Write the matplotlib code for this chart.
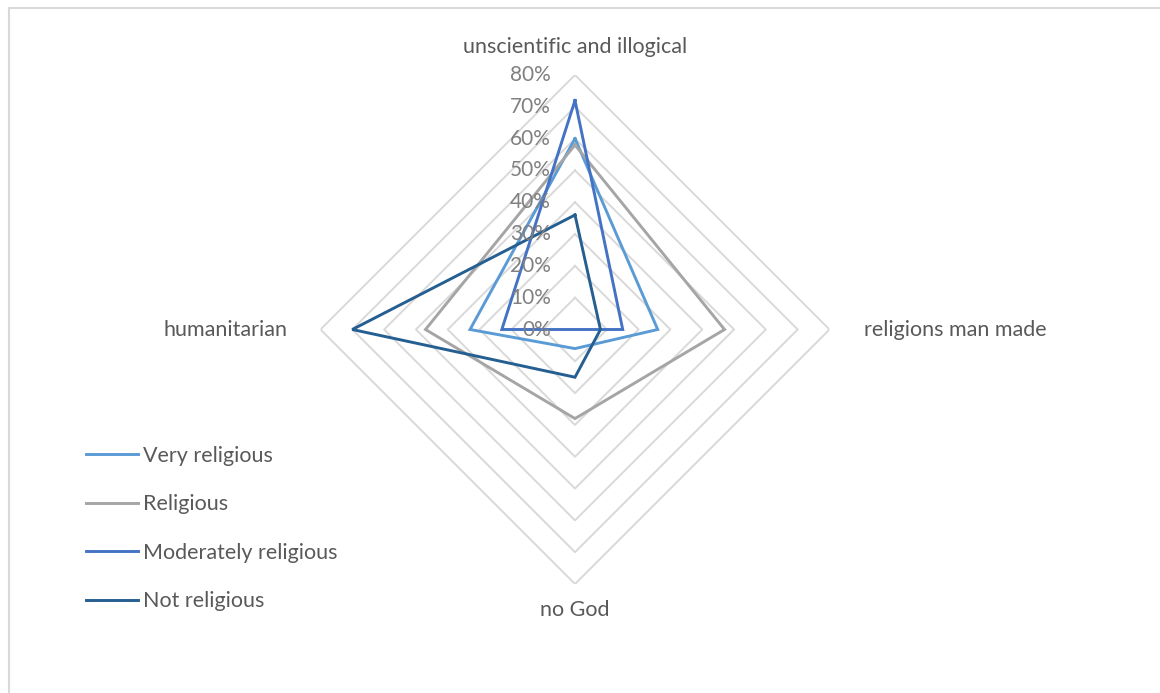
import matplotlib.pyplot as plt
import matplotlib.patches as patches
from matplotlib.transforms import offset_copy
import numpy as np

plt.rcParams['font.family'] = ['Lato', 'DejaVu Sans']

# Categories (clockwise from the top) and shares per group
categories = ['unscientific and illogical', 'religions man made', 'no God', 'humanitarian']
very_religious = [0.60, 0.26, 0.06, 0.33]
religious = [0.58, 0.47, 0.28, 0.47]
moderately_religious = [0.72, 0.15, 0.00, 0.23]
not_religious = [0.36, 0.08, 0.15, 0.70]
series_names = ['Very religious', 'Religious', 'Moderately religious', 'Not religious']
rings = [0.1, 0.2, 0.3, 0.4, 0.5, 0.6, 0.7, 0.8]

colors = ['#5B9BD5', '#A5A5A5', '#4472C4', '#255E91']
text_gray = '#595959'
fs = 15.5

W, H = 1160, 693
fig = plt.figure(figsize=(W / 100, H / 100), dpi=100)

# chart frame
fig.patches.append(patches.Rectangle((9 / W, -0.05), 1.2, 1 - 8 / H + 0.05,
                                     transform=fig.transFigure, fill=False,
                                     edgecolor='#D9D9D9', linewidth=1.5))

# radar area: centre (575, 329.5) px, 80% ring at 254.5 px
cx, cy, rad = 575, 329.5, 254.5
ax = fig.add_axes([(cx - rad) / W, (H - cy - rad) / H, 2 * rad / W, 2 * rad / H],
                  projection='polar')
ax.set_theta_zero_location('N')
ax.set_theta_direction(-1)
ax.set_ylim(0, 0.8)
ax.set_rorigin(0)
ax.grid(False)
ax.spines['polar'].set_visible(False)
ax.set_xticks([])
ax.set_yticks([])
ax.patch.set_alpha(0)

angles = np.linspace(0, 2 * np.pi, len(categories), endpoint=False)
closed = np.append(angles, angles[0])

# diamond-shaped grid rings
for r in rings:
    ax.plot(closed, [r] * len(closed), color='#D9D9D9', linewidth=1.4, zorder=1)

data = [very_religious, religious, moderately_religious, not_religious]
for vals, name, c in zip(data, series_names, colors):
    ax.plot(closed, vals + vals[:1], color=c, linewidth=2.1, label=name, zorder=3,
            solid_joinstyle='miter')

# value labels along the vertical axis
tick_tr = offset_copy(ax.transData, fig=fig, x=-24, y=0, units='dots')
for r in [0.0] + rings:
    ax.text(0, r, f'{int(round(r * 100))}%', transform=tick_tr, ha='right', va='center',
            fontsize=fs - 0.5, color='#808080', zorder=4)

# category labels
lbl_kw = dict(fontsize=fs, color=text_gray)
ax.text(0, 0.8, categories[0], ha='center', va='center',
        transform=offset_copy(ax.transData, fig=fig, x=0, y=28, units='dots'), **lbl_kw)
ax.text(angles[1], 0.8, categories[1], ha='left', va='center',
        transform=offset_copy(ax.transData, fig=fig, x=34, y=0, units='dots'), **lbl_kw)
ax.text(angles[2], 0.8, categories[2], ha='center', va='center',
        transform=offset_copy(ax.transData, fig=fig, x=0, y=-26, units='dots'), **lbl_kw)
ax.text(angles[3], 0.8, categories[3], ha='right', va='center',
        transform=offset_copy(ax.transData, fig=fig, x=-33, y=0, units='dots'), **lbl_kw)

fs_px = fs * 100 / 72
leg = fig.legend(loc='upper left', bbox_to_anchor=(86 / W, 1 - 446 / H), frameon=False,
                 fontsize=fs, handlelength=52 / fs_px, handletextpad=5 / fs_px,
                 labelspacing=1.32, borderpad=0, borderaxespad=0)
for t in leg.get_texts():
    t.set_color(text_gray)

fig.savefig('out.png', dpi=100)
